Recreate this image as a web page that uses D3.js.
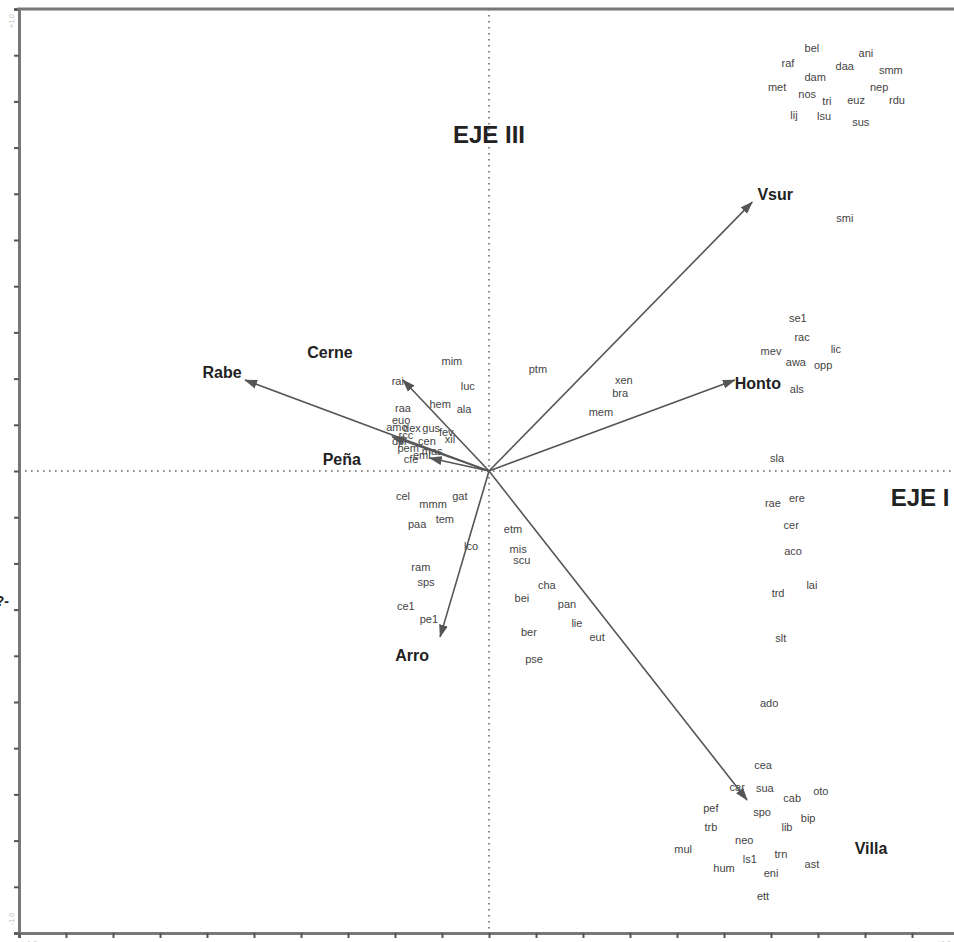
<!DOCTYPE html>
<html>
<head>
<meta charset="utf-8">
<script src="https://cdn.jsdelivr.net/npm/d3@7"></script>
<style>
  html, body { margin: 0; padding: 0; background: #fff; }
  svg { display: block; }
</style>
</head>
<body>
<script>
// Species scores on axes I and III
const speciesCodes = [
  "bel","ani","raf","daa","smm","dam","met","nep","nos","tri","euz","rdu","lij","lsu","sus","smi",
  "se1","rac","mev","lic","awa","opp","als","sla","rae","ere","cer","aco","lai","trd","slt","ado",
  "cea","car","sua","oto","cab","pef","spo","bip","trb","lib","neo","mul","trn","ls1","hum","ast","eni","ett",
  "etm","mis","scu","cha","bei","pan","lie","eut","ber","pse",
  "cel","mmm","gat","tem","paa","lco","ram","sps","ce1","pe1",
  "mim","luc","rai","hem","ala","raa","ptm","xen","bra","mem",
  "euo","amo","dex","gus","fev","xil","rcc","dpi","cen","pem","mas","cfe","eml"
];
const speciesAxis1 = [
  0.687,0.802,0.636,0.757,0.855,0.694,0.613,0.830,0.677,0.719,0.781,0.868,0.649,0.713,0.791,0.757,
  0.657,0.666,0.600,0.738,0.653,0.711,0.655,0.613,0.604,0.655,0.643,0.647,0.687,0.615,0.621,0.596,
  0.583,0.528,0.587,0.706,0.645,0.472,0.581,0.679,0.472,0.634,0.543,0.413,0.621,0.555,0.500,0.687,0.600,0.583,
  0.051,0.062,0.070,0.123,0.070,0.166,0.187,0.230,0.085,0.096,
  -0.183,-0.119,-0.062,-0.094,-0.153,-0.038,-0.145,-0.134,-0.177,-0.128,
  -0.079,-0.045,-0.194,-0.104,-0.053,-0.183,0.104,0.287,0.279,0.238,
  -0.187,-0.196,-0.164,-0.123,-0.091,-0.083,-0.177,-0.191,-0.132,-0.172,-0.121,-0.166,-0.143
];
const speciesAxis3 = [
  0.916,0.905,0.883,0.877,0.868,0.853,0.831,0.831,0.816,0.801,0.803,0.803,0.771,0.768,0.755,0.548,
  0.331,0.290,0.260,0.264,0.236,0.229,0.177,0.028,-0.069,-0.058,-0.117,-0.173,-0.247,-0.264,-0.361,-0.502,
  -0.636,-0.684,-0.686,-0.693,-0.708,-0.729,-0.738,-0.751,-0.771,-0.771,-0.799,-0.818,-0.829,-0.840,-0.859,-0.851,-0.870,-0.920,
  -0.126,-0.169,-0.193,-0.247,-0.275,-0.288,-0.329,-0.359,-0.348,-0.407,
  -0.054,-0.071,-0.054,-0.104,-0.115,-0.162,-0.208,-0.240,-0.292,-0.320,
  0.238,0.184,0.195,0.145,0.134,0.136,0.221,0.197,0.169,0.128,
  0.110,0.095,0.093,0.093,0.084,0.069,0.078,0.065,0.065,0.050,0.043,0.026,0.035
];

// Environmental variables (arrow tips on axes I and III)
const variableNames = ["Rabe","Cerne","Peña","","Arro","Villa","Vsur","Honto"];
const variableAxis1 = [-0.519,-0.183,-0.126,-0.206,-0.104,0.549,0.560,0.523];
const variableAxis3 = [0.197,0.197,0.028,0.074,-0.359,-0.712,0.582,0.197];

// Axis tick values and end labels
const tickValues = d3.range(-10, 11).map(i => i / 10);
const endLabels = ["-1.0", "+1.0"];
const axisTitles = ["EJE I", "EJE III"];

// Pixel offsets of each variable label from its arrow tip
const labelOffset = {
  "Rabe": [-23, -8], "Cerne": [-73, -28], "Peña": [-88, 1], "Arro": [-28, 19],
  "Villa": [124, 48], "Vsur": [23, -8], "Honto": [23, 3]
};

const W = 954, H = 942;
const svg = d3.select("body").append("svg").attr("width", W).attr("height", H)
  .style("font-family", "'Liberation Sans', Arial, sans-serif");

const x = d3.scaleLinear().domain([-1, 1]).range([19, 959]);
const y = d3.scaleLinear().domain([-1, 1]).range([933, 9]);

// Dotted zero lines
svg.append("line").attr("x1", x(0)).attr("x2", x(0)).attr("y1", y(1)).attr("y2", y(-1))
  .attr("stroke", "#666").attr("stroke-width", 1.6).attr("stroke-dasharray", "1.6,4.4");
svg.append("line").attr("x1", x(-1)).attr("x2", W).attr("y1", y(0)).attr("y2", y(0))
  .attr("stroke", "#666").attr("stroke-width", 1.6).attr("stroke-dasharray", "1.6,4.4");

// Frame axes (left and bottom with ticks), top border
const leftAxis = d3.axisLeft(y).tickValues(tickValues).tickSize(5).tickFormat("");
const bottomAxis = d3.axisBottom(x).tickValues(tickValues).tickSize(5).tickFormat("");
const gl = svg.append("g").attr("transform", `translate(${x(-1)},0)`).call(leftAxis);
const gb = svg.append("g").attr("transform", `translate(0,${y(-1)})`).call(bottomAxis);
[gl, gb].forEach(g => {
  g.select(".domain").attr("stroke", "#777").attr("stroke-width", 3);
  g.selectAll(".tick line").attr("stroke", "#555").attr("stroke-width", 2);
});
svg.append("line").attr("x1", x(-1) - 1.5).attr("x2", W).attr("y1", y(1)).attr("y2", y(1))
  .attr("stroke", "#777").attr("stroke-width", 3);

// Small end labels of the frame scale
const endStyle = s => s.attr("font-size", 7).attr("fill", "#bbb");
svg.append("text").text(endLabels[1]).attr("transform", `translate(${x(-1) - 5},${y(1) + 12}) rotate(-90)`)
  .attr("text-anchor", "middle").call(endStyle);
svg.append("text").text(endLabels[0]).attr("transform", `translate(${x(-1) - 5},${y(-1) - 14}) rotate(-90)`)
  .attr("text-anchor", "middle").call(endStyle);
svg.append("text").text(endLabels[0]).attr("x", x(-1) + 12).attr("y", y(-1) + 13)
  .attr("text-anchor", "middle").call(endStyle);
svg.append("text").text(endLabels[1]).attr("x", W - 10).attr("y", y(-1) + 13)
  .attr("text-anchor", "middle").call(endStyle);

// Arrowhead marker
svg.append("defs").append("marker")
  .attr("id", "head").attr("markerUnits", "userSpaceOnUse")
  .attr("viewBox", "0 -5 13 10").attr("refX", 12).attr("refY", 0)
  .attr("markerWidth", 13).attr("markerHeight", 10).attr("orient", "auto")
  .append("path").attr("d", "M0,-4.5L13,0L0,4.5Z").attr("fill", "#555");

// Species labels
const species = speciesCodes.map((c, i) => ({ code: c, a1: speciesAxis1[i], a3: speciesAxis3[i] }));
svg.append("g").selectAll("text").data(species).join("text")
  .attr("x", d => x(d.a1)).attr("y", d => y(d.a3)).attr("dy", "0.35em")
  .attr("text-anchor", "middle").attr("font-size", 11).attr("fill", "#444")
  .text(d => d.code);

// Environmental arrows
const variables = variableNames.map((n, i) => ({ name: n, a1: variableAxis1[i], a3: variableAxis3[i] }));
svg.append("g").selectAll("line").data(variables).join("line")
  .attr("x1", x(0)).attr("y1", y(0))
  .attr("x2", d => x(d.a1)).attr("y2", d => y(d.a3))
  .attr("stroke", "#555").attr("stroke-width", 1.6).attr("marker-end", "url(#head)");

svg.append("g").selectAll("text").data(variables.filter(d => d.name)).join("text")
  .attr("x", d => x(d.a1) + labelOffset[d.name][0])
  .attr("y", d => y(d.a3) + labelOffset[d.name][1])
  .attr("dy", "0.35em").attr("text-anchor", "middle")
  .attr("font-size", 16).attr("font-weight", "bold").attr("fill", "#222")
  .text(d => d.name);

// Axis titles
svg.append("text").text(axisTitles[1]).attr("x", x(0)).attr("y", 135).attr("dy", "0.35em")
  .attr("text-anchor", "middle").attr("font-size", 24).attr("font-weight", "bold").attr("fill", "#222");
svg.append("text").text(axisTitles[0]).attr("x", 920).attr("y", 498).attr("dy", "0.35em")
  .attr("text-anchor", "middle").attr("font-size", 24).attr("font-weight", "bold").attr("fill", "#222");

// Clipped fragment at the left margin
svg.append("text").text("?-").attr("x", 9).attr("y", 606).attr("text-anchor", "end")
  .attr("font-size", 14).attr("font-weight", "bold").attr("fill", "#222");
</script>
</body>
</html>
